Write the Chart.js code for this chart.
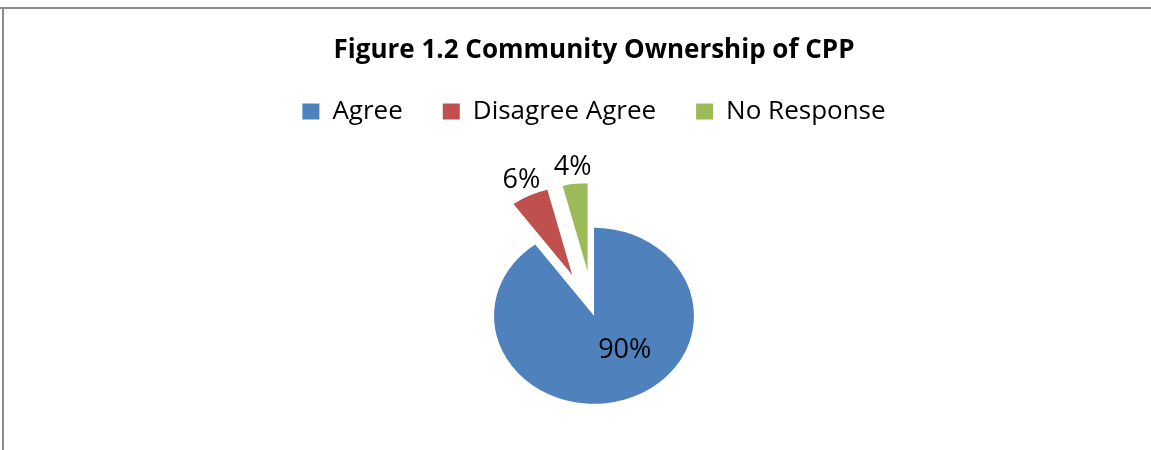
<!DOCTYPE html>
<html>
<head>
<meta charset="utf-8">
<script src="https://cdn.jsdelivr.net/npm/chart.js@4.4.1/dist/chart.umd.min.js"></script>
<style>
  html, body { margin: 0; padding: 0; background: #fff; }
</style>
</head>
<body>
<canvas id="myChart" width="1151" height="450"></canvas>
<script>
const categories = ['Agree', 'Disagree Agree', 'No Response'];
const shares = [90, 6, 4];
const sliceColors = ['#4F81BD', '#C0504D', '#9BBB59'];
const chartTitle = 'Figure 1.2 Community Ownership of CPP';

const stretchX = 1.136; // pie in the picture is wider than tall

// grey frame lines (top + left) like the cropped Excel box
const frameLines = {
    id: 'frameLines',
    beforeDraw(chart) {
        const ctx = chart.ctx;
        ctx.save();
        ctx.fillStyle = '#8c8c8c';
        ctx.fillRect(0, 7, chart.width, 2);
        ctx.fillRect(2, 7, 2, chart.height - 7);
        ctx.restore();
    }
};

// explode slices, stretch the pie sideways and write the percentages
const ovalPie = {
    id: 'ovalPie',
    afterDatasetsUpdate(chart, args, opts) {
        chart.getDatasetMeta(0).data.forEach((arc, i) => {
            const push = opts.explode[i] || 0;
            const mid = (arc.startAngle + arc.endAngle) / 2;
            arc.x += Math.cos(mid) * push;
            arc.y += Math.sin(mid) * push;
        });
    },
    beforeDatasetsDraw(chart) {
        const cx = (chart.chartArea.left + chart.chartArea.right) / 2;
        const ctx = chart.ctx;
        ctx.save();
        ctx.translate(cx, 0);
        ctx.scale(stretchX, 1);
        ctx.translate(-cx, 0);
    },
    afterDatasetsDraw(chart, args, opts) {
        const ctx = chart.ctx;
        ctx.restore();

        const cx = (chart.chartArea.left + chart.chartArea.right) / 2;
        const meta = chart.getDatasetMeta(0);
        const radius = meta.controller.outerRadius;
        const total = shares.reduce((a, b) => a + b, 0);
        ctx.save();
        ctx.font = '27px "Open Sans"';
        ctx.fillStyle = '#000';
        ctx.textAlign = 'center';
        ctx.textBaseline = 'middle';
        meta.data.forEach((arc, i) => {
            let mid = (arc.startAngle + arc.endAngle) / 2;
            let dist = radius + 17;
            if (!opts.explode[i]) {
                mid += opts.insideTurn * Math.PI / 180;
                dist = radius * 0.5;
            }
            const px = arc.x + Math.cos(mid) * dist;
            const lx = cx + (px - cx) * stretchX;
            const ly = arc.y + Math.sin(mid) * dist;
            ctx.fillText(Math.round(shares[i] / total * 100) + '%', lx, ly);
        });
        ctx.restore();
    }
};

new Chart(document.getElementById('myChart'), {
    type: 'pie',
    data: {
        labels: categories,
        datasets: [{
            data: shares,
            backgroundColor: sliceColors,
            borderWidth: 0,
            radius: 88,
            clip: false
        }]
    },
    options: {
        responsive: false,
        animation: false,
        events: [],
        layout: { padding: { top: 10, left: 37, right: 0, bottom: 0 } },
        plugins: {
            title: {
                display: true,
                text: chartTitle,
                color: '#000',
                font: { family: 'Open Sans', size: 26, weight: 'bold', lineHeight: 0.6 },
                padding: { top: 33, bottom: 0 }
            },
            legend: {
                position: 'top',
                weight: 1800,
                labels: {
                    color: '#000',
                    font: { family: 'Open Sans', size: 26 },
                    boxWidth: 17,
                    boxHeight: 16,
                    padding: 40
                }
            },
            // empty subtitle only used as a spacer under the legend
            subtitle: {
                display: true,
                text: '',
                font: { size: 12, lineHeight: 1 },
                padding: { top: 0, bottom: 35 }
            },
            tooltip: { enabled: false },
            ovalPie: { explode: [0, 45, 45], insideTurn: -20 }
        }
    },
    plugins: [frameLines, ovalPie]
});
</script>
</body>
</html>
